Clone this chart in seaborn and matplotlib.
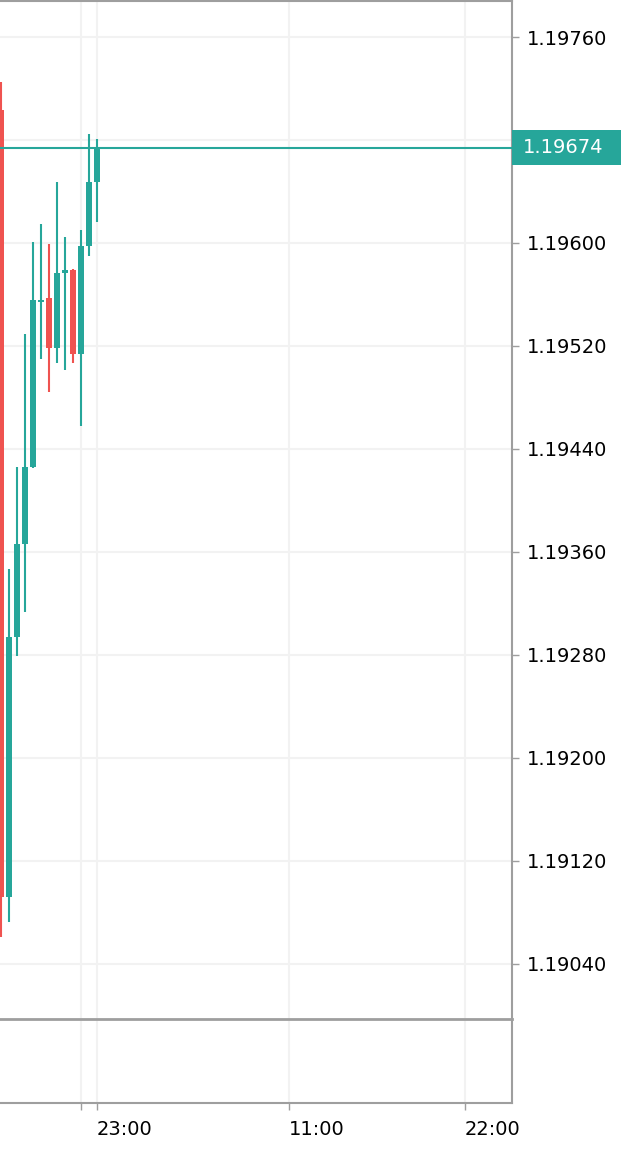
import matplotlib
matplotlib.use("Agg")
import matplotlib.pyplot as plt
import matplotlib.transforms as mtransforms
from matplotlib.patches import Rectangle
import seaborn as sns
import pandas as pd
import numpy as np

# 30 minute candles
times = ["2021-03-01 17:00", "2021-03-01 17:30", "2021-03-01 18:00", "2021-03-01 18:30",
         "2021-03-01 19:00", "2021-03-01 19:30", "2021-03-01 20:00", "2021-03-01 20:30",
         "2021-03-01 21:00", "2021-03-01 21:30", "2021-03-01 22:00", "2021-03-01 22:30",
         "2021-03-01 23:00"]
opens = [1.19703, 1.19092, 1.19294, 1.19366, 1.19426, 1.19554, 1.19557, 1.19518,
         1.19577, 1.19579, 1.19514, 1.19598, 1.19647]
highs = [1.19725, 1.19347, 1.19426, 1.19529, 1.19601, 1.19615, 1.19599, 1.19647,
         1.19605, 1.19580, 1.19610, 1.19685, 1.19681]
lows = [1.19061, 1.19072, 1.19279, 1.19313, 1.19425, 1.19510, 1.19484, 1.19507,
        1.19501, 1.19507, 1.19458, 1.19590, 1.19616]
closes = [1.19092, 1.19294, 1.19366, 1.19426, 1.19556, 1.19556, 1.19518, 1.19577,
          1.19579, 1.19514, 1.19598, 1.19647, 1.19674]
last_price = 1.19674

price_ticks = [1.19040, 1.19120, 1.19200, 1.19280, 1.19360, 1.19440,
               1.19520, 1.19600, 1.19680, 1.19760]
tick_times = ["2021-03-01 22:00", "2021-03-01 23:00", "2021-03-02 11:00", "2021-03-02 22:00"]
tick_labels = ["", "23:00", "11:00", "22:00"]

green = "#26a69a"
red = "#ef5350"
axis_gray = "#9e9e9e"
grid_col = "#f2f2f2"
text_col = "#000000"

sns.set_style("white")
plt.rcParams['font.family'] = ['DejaVu Sans']

t0 = pd.Timestamp(times[0])
x = np.array([(pd.Timestamp(t) - t0) / pd.Timedelta(hours=1) for t in times])
xt = [(pd.Timestamp(t) - t0) / pd.Timedelta(hours=1) for t in tick_times]
o = np.array(opens); c = np.array(closes)
cols = [green if cc >= oo else red for oo, cc in zip(o, c)]

W, H = 624, 1150
fig = plt.figure(figsize=(W / 100, H / 100), dpi=100)
fig.patch.set_facecolor("white")
ax2 = fig.add_axes([0, (H - 1103) / H, 512 / W, 84 / H])
ax = fig.add_axes([0, (H - 1019) / H, 512 / W, 1018 / H])

xlim = (-1 / 16, 511 / 16)
for a in (ax, ax2):
    a.set_xlim(*xlim)
    a.set_facecolor("white")
    a.set_xticks(xt)
    a.grid(True, axis="x", color=grid_col, lw=1.5)
    a.spines["left"].set_visible(False)
    for s in ("right", "bottom", "top"):
        a.spines[s].set_color(axis_gray)
        a.spines[s].set_linewidth(1.5)
ax2.spines["top"].set_visible(False)
ax.spines["bottom"].set_linewidth(2)
ax.spines["bottom"].set_clip_on(False)

# candles
ax.vlines(x, lows, highs, colors=cols, lw=1.5, zorder=3)
body_lo = np.minimum(o, c)
body_h = np.maximum(np.abs(c - o), 2e-5)
ax.bar(x, body_h, bottom=body_lo, width=6 / 16, color=cols, zorder=4, linewidth=0)

ax.set_ylim(1.18997, 1.19788)
ax.set_yticks(price_ticks)
# the label at the last-price level is hidden behind the price tag
ax.set_yticklabels(["" if abs(p - last_price) < 0.0002 else f"{p:.5f}" for p in price_ticks])
ax.yaxis.tick_right()
ax.tick_params(axis="y", right=True, length=5, width=1, color=axis_gray, pad=6,
               labelsize=14, labelcolor=text_col)
ax.tick_params(axis="x", bottom=False, labelbottom=False)
ax.grid(True, axis="y", color=grid_col, lw=1.5)
ax.set_axisbelow(True)

# last price line and tag
ax.axhline(last_price, color=green, lw=1.5, zorder=5)
trans = mtransforms.blended_transform_factory(ax.transAxes, ax.transData)
half = 17.5 * 0.00001 / 1.2861
ax.add_patch(Rectangle((1.0, last_price - half), 109 / 512, 2 * half, transform=trans,
                       facecolor=green, edgecolor="none", clip_on=False, zorder=6))
ax.text(1 + 11 / 512, last_price, f"{last_price:.5f}", transform=trans, color="white",
        fontsize=14, ha="left", va="center", zorder=7)

# lower pane / time axis
ax2.set_yticks([])
ax2.set_xticklabels(tick_labels)
ax2.tick_params(axis="x", bottom=True, length=5, width=1, color=axis_gray, pad=7,
                labelsize=14, labelcolor=text_col)
for lab in ax2.get_xticklabels():
    lab.set_ha("left")

fig.savefig("out.png", dpi=100, facecolor="white")
